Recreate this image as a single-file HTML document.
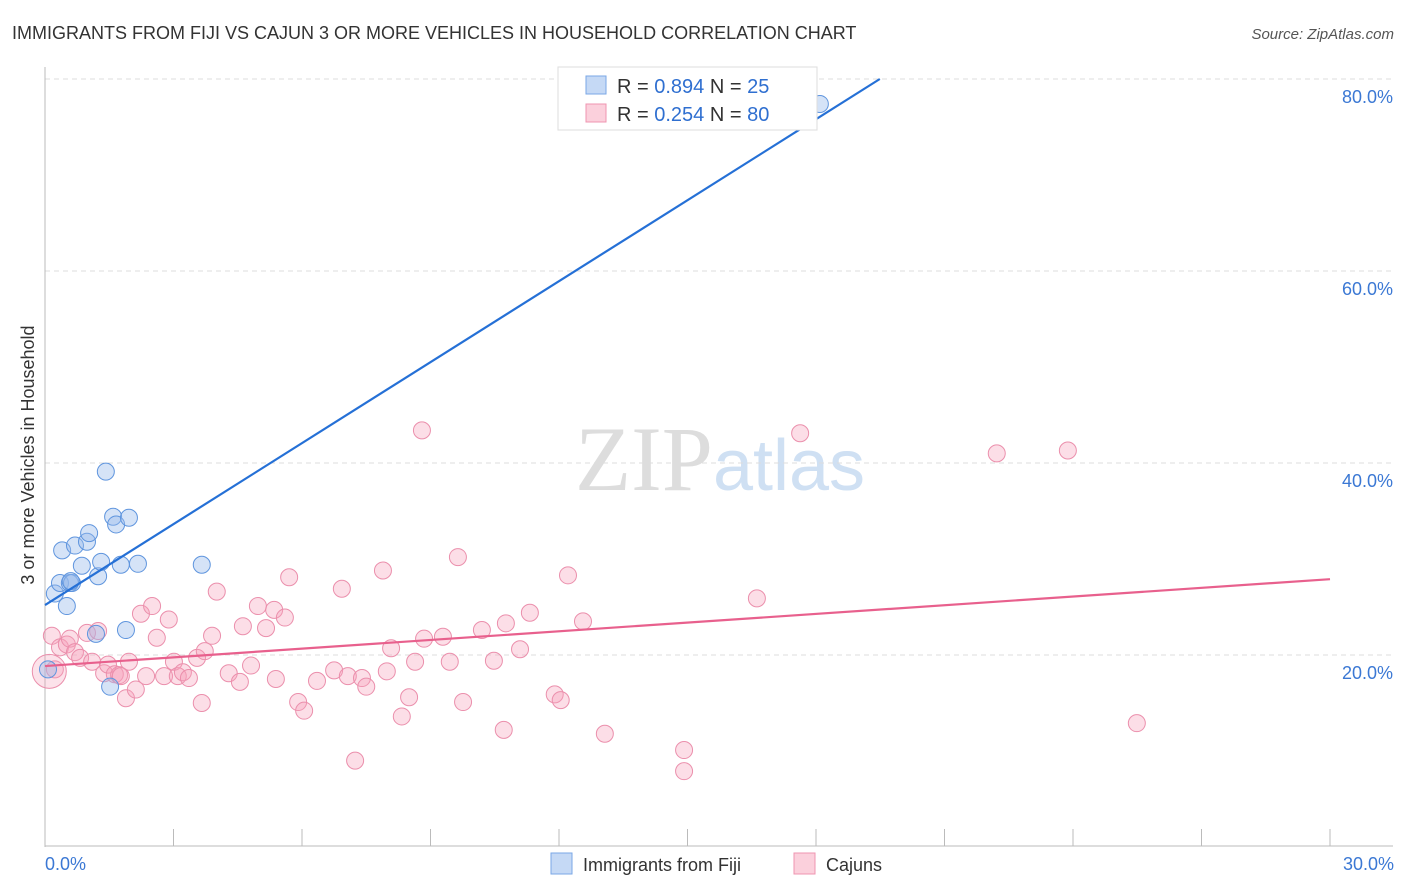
<!DOCTYPE html>
<html><head><meta charset="utf-8"><style>
body{margin:0;background:#fff;font-family:"Liberation Sans",sans-serif}
</style></head><body>
<svg id="chart" width="1406" height="892" xmlns="http://www.w3.org/2000/svg" style="display:block">
<text x="12" y="39" font-size="18" fill="#333">IMMIGRANTS FROM FIJI VS CAJUN 3 OR MORE VEHICLES IN HOUSEHOLD CORRELATION CHART</text>
<text x="1394" y="39" font-size="15" fill="#555" font-style="italic" text-anchor="end">Source: ZipAtlas.com</text>
<text x="720" y="490" font-size="92" text-anchor="middle" font-family="Liberation Serif,serif" fill="#ddd">ZIP<tspan fill="#cfe0f3" font-family="Liberation Sans,sans-serif" font-size="72">atlas</tspan></text>
<text transform="translate(34,455) rotate(-90)" font-size="18" fill="#333" text-anchor="middle">3 or more Vehicles in Household</text>
<g id="grid"></g><g id="axes"></g><g id="marks"></g>
<g>
<rect x="558" y="67" width="259" height="63" fill="#fff" stroke="#ddd"/>
<rect x="586" y="76" width="20" height="18" fill="#c5d9f5" stroke="#7aa7e6"/>
<rect x="586" y="104" width="20" height="18" fill="#fbd0dc" stroke="#ef95b0"/>
<text x="617" y="93" font-size="20" fill="#333">R = <tspan fill="#2f6fd0">0.894</tspan>   N = <tspan fill="#2f6fd0">25</tspan></text>
<text x="617" y="121" font-size="20" fill="#333">R = <tspan fill="#2f6fd0">0.254</tspan>   N = <tspan fill="#2f6fd0">80</tspan></text>
</g>
<g>
<rect x="551" y="853" width="21" height="21" fill="#c5d9f5" stroke="#7aa7e6"/>
<text x="583" y="871" font-size="18" fill="#333">Immigrants from Fiji</text>
<rect x="794" y="853" width="21" height="21" fill="#fbd0dc" stroke="#ef95b0"/>
<text x="826" y="871" font-size="18" fill="#333">Cajuns</text>
</g>
</svg>
<script>
const yTicks=[20,40,60,80];
const yTickLabels=["20.0%","40.0%","60.0%","80.0%"];
const xTicks=[0,3,6,9,12,15,18,21,24,27,30];
const fijiX=[0.07,0.23,0.35,0.4,0.51,0.58,0.63,0.7,0.86,0.98,1.03,1.19,1.24,1.31,1.42,1.52,1.59,1.66,1.77,1.89,1.96,2.17,3.66,18.09,0.6];
const fijiY=[18.5,26.4,27.5,30.9,25.1,27.5,27.5,31.4,29.3,31.8,32.7,22.2,28.2,29.7,39.1,16.7,34.4,33.6,29.4,22.6,34.3,29.5,29.4,77.4,27.7];
const cajunX=[0.16,0.23,0.35,0.51,0.58,0.7,0.82,0.98,1.1,1.24,1.38,1.47,1.63,1.73,1.77,1.89,1.96,2.12,2.24,2.36,2.5,2.61,2.78,2.89,3.01,3.1,3.22,3.36,3.55,3.66,3.73,3.9,4.01,4.29,4.55,4.62,4.81,4.97,5.16,5.35,5.39,5.6,5.7,5.91,6.05,6.35,6.75,6.93,7.07,7.24,7.4,7.5,7.89,7.98,8.08,8.33,8.5,8.64,8.8,8.85,9.29,9.45,9.64,9.76,10.2,10.48,10.71,10.76,11.09,11.32,11.9,12.04,12.21,12.56,13.07,14.92,14.92,16.62,17.63,22.22,23.88,25.49];
const cajunY=[22.0,18.5,20.8,21.1,21.7,20.3,19.7,22.3,19.3,22.5,18.1,19.0,18.0,17.9,17.8,15.5,19.3,16.4,24.3,17.8,25.1,21.8,17.8,23.7,19.3,17.8,18.2,17.6,19.7,15.0,20.4,22.0,26.6,18.1,17.2,23.0,18.9,25.1,22.8,24.7,17.5,23.9,28.1,15.1,14.2,17.3,18.4,26.9,17.8,9.0,17.6,16.7,28.8,18.3,20.7,13.6,15.6,19.3,43.4,21.7,21.9,19.3,30.2,15.1,22.6,19.4,12.2,23.3,20.6,24.4,15.9,15.3,28.3,23.5,11.8,10.1,7.9,25.9,43.1,41.0,41.3,12.9];
const fijiTrend=[[0,25.2],[19.49,80.0]];
const cajunTrend=[[0,18.85],[30,27.9]];
const NS="http://www.w3.org/2000/svg";
const X=v=>45+v/30*1285, Y=v=>847-v/20*192;
function mk(tag,attrs,parent){const e=document.createElementNS(NS,tag);for(const k in attrs)e.setAttribute(k,attrs[k]);document.getElementById(parent).appendChild(e);return e;}
yTicks.forEach((t,i)=>{
 const l=mk('line',{x1:45,x2:1393,y1:Y(t),y2:Y(t),stroke:'#ddd','stroke-dasharray':'5,4'},'grid');
 
 
 const tx=mk('text',{x:1393,y:Y(t)+24,'font-size':18,fill:'#3b78d4','text-anchor':'end'},'grid');tx.textContent=yTickLabels[i];
 
 
});
const ax=mk('line',{x1:45,x2:45,y1:67,y2:847,stroke:'#bbb'},'axes');


const bx=mk('line',{x1:45,x2:1393,y1:846,y2:846,stroke:'#bbb'},'axes');


xTicks.forEach(t=>{const l=mk('line',{x1:X(t),x2:X(t),y1:829,y2:846,stroke:'#bbb'},'axes');
 
 });
const xl0=mk('text',{x:45,y:870,'font-size':18,fill:'#3b78d4'},'axes');xl0.textContent='0.0%';


const xl1=mk('text',{x:1394,y:870,'font-size':18,fill:'#3b78d4','text-anchor':'end'},'axes');xl1.textContent='30.0%';


cajunX.forEach((v,i)=>{const c=mk('circle',{cx:X(v),cy:Y(cajunY[i]),r:8.5,fill:'rgba(245,160,185,0.35)',stroke:'#eb8fac','stroke-width':1},'marks');
 
 });
const big=mk('circle',{cx:X(0.1),cy:Y(18.3),r:17,fill:'rgba(245,160,185,0.3)',stroke:'#eb8fac'},'marks');


fijiX.forEach((v,i)=>{const c=mk('circle',{cx:X(v),cy:Y(fijiY[i]),r:8.5,fill:'rgba(150,185,235,0.4)',stroke:'#5f95de','stroke-width':1},'marks');
 
 });
const t1=mk('line',{x1:X(fijiTrend[0][0]),y1:Y(fijiTrend[0][1]),x2:X(fijiTrend[1][0]),y2:Y(fijiTrend[1][1]),stroke:'#2570d6','stroke-width':2.2},'marks');


const t2=mk('line',{x1:X(cajunTrend[0][0]),y1:Y(cajunTrend[0][1]),x2:X(cajunTrend[1][0]),y2:Y(cajunTrend[1][1]),stroke:'#e8608d','stroke-width':2.2},'marks');


</script>
</body></html>
